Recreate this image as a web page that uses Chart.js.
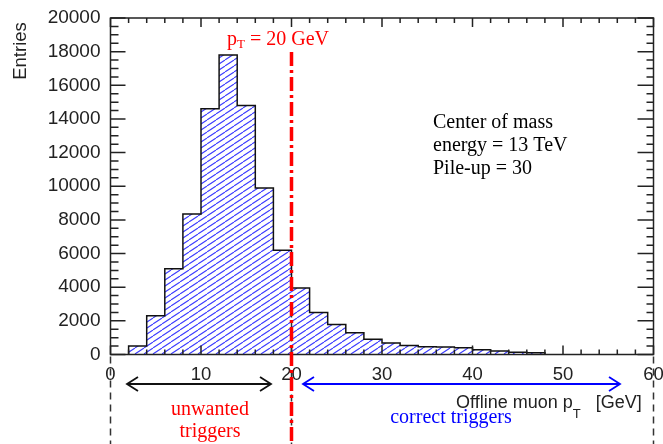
<!DOCTYPE html>
<html>
<head>
<meta charset="utf-8">
<script src="https://cdn.jsdelivr.net/npm/chart.js@4.4.1/dist/chart.umd.min.js"></script>
<style>
  html, body { margin: 0; padding: 0; background: #fff; }
  #wrap { position: relative; width: 663px; height: 444px; }
</style>
</head>
<body>
<div id="wrap"><canvas id="histo"></canvas></div>
<script>
// histogram bins (GeV) and entries
const binEdges = [2, 4, 6, 8, 10, 12, 14, 16, 18, 20, 22, 24, 26, 28, 30, 32, 34, 36, 38, 40, 42, 44, 46, 48];
const entries  = [500, 2300, 5100, 8350, 14600, 17800, 14800, 9900, 6200,
                  3950, 2500, 1780, 1300, 900, 680, 540, 460, 440, 400,
                  280, 210, 130, 100];
const xTicks = [0, 10, 20, 30, 40, 50, 60];
const yTicks = [0, 2000, 4000, 6000, 8000, 10000, 12000, 14000, 16000, 18000, 20000];
const threshold = 20;

const serif = '"Liberation Serif", "Times New Roman", serif';
const sans = '"Liberation Sans", Arial, Helvetica, sans-serif';

// step points: left edge of each bin holds its value
const stepPoints = [{ x: binEdges[0], y: 0 }];
entries.forEach((v, i) => stepPoints.push({ x: binEdges[i], y: v }));
stepPoints.push({ x: binEdges[binEdges.length - 1], y: 0 });

function makeHatch() {
    const c = document.createElement('canvas');
    const w = 9, h = 6;
    c.width = w; c.height = h;
    const g = c.getContext('2d');
    g.strokeStyle = '#3b3bff';
    g.lineWidth = 1.1;
    g.beginPath();
    g.moveTo(-w, h); g.lineTo(0, 0);
    g.moveTo(0, h); g.lineTo(w, 0);
    g.moveTo(w, h); g.lineTo(2 * w, 0);
    g.stroke();
    return g.createPattern(c, 'repeat');
}

// frame with inward ticks on all four sides (ROOT style)
const frameTicks = {
    id: 'frameTicks',
    afterDatasetsDraw(chart) {
        const { ctx, chartArea: a, scales: { x, y } } = chart;
        ctx.save();
        ctx.strokeStyle = '#222';
        ctx.lineWidth = 1.5;
        ctx.strokeRect(a.left, a.top, a.right - a.left, a.bottom - a.top);
        ctx.beginPath();
        for (let v = x.min; v <= x.max; v += 2) {
            const px = x.getPixelForValue(v);
            const len = v % 10 === 0 ? 9 : 5;
            ctx.moveTo(px, a.bottom); ctx.lineTo(px, a.bottom - len);
            ctx.moveTo(px, a.top); ctx.lineTo(px, a.top + len);
        }
        for (let v = y.min; v <= y.max; v += 500) {
            const py = y.getPixelForValue(v);
            const major = v % 2000 === 0;
            ctx.moveTo(a.left, py); ctx.lineTo(a.left + (major ? 15 : 8), py);
            ctx.moveTo(a.right, py); ctx.lineTo(a.right - (major ? 16 : 7), py);
        }
        ctx.stroke();
        ctx.restore();
    }
};

function textWithSub(ctx, x, y, main, sub, rest, subSize, drop) {
    ctx.fillText(main, x, y);
    let cx = x + ctx.measureText(main).width;
    const f = ctx.font;
    ctx.font = ctx.font.replace(/[\d.]+px/, subSize + 'px');
    ctx.fillText(sub, cx, y + drop);
    cx += ctx.measureText(sub).width;
    ctx.font = f;
    ctx.fillText(rest, cx, y);
}

function arrow(ctx, x1, x2, y, color) {
    ctx.strokeStyle = color;
    ctx.lineWidth = 1.8;
    ctx.beginPath();
    ctx.moveTo(x1, y); ctx.lineTo(x2, y);
    ctx.moveTo(x1 + 11, y - 7); ctx.lineTo(x1, y); ctx.lineTo(x1 + 11, y + 7);
    ctx.moveTo(x2 - 11, y - 7); ctx.lineTo(x2, y); ctx.lineTo(x2 - 11, y + 7);
    ctx.stroke();
}

// threshold line, arrows and labels
const annotations = {
    id: 'annotations',
    afterDraw(chart) {
        const { ctx, chartArea: a, scales: { x } } = chart;
        const H = chart.height;
        const x0 = x.getPixelForValue(x.min);
        const x60 = x.getPixelForValue(x.max);
        const xt = x.getPixelForValue(threshold);
        ctx.save();

        // y axis title
        ctx.save();
        ctx.translate(21, 51);
        ctx.rotate(-Math.PI / 2);
        ctx.fillStyle = '#222';
        ctx.font = '18.5px ' + sans;
        ctx.textAlign = 'center';
        ctx.textBaseline = 'middle';
        ctx.fillText('Entries', 0, 0);
        ctx.restore();

        // black dashed guides below the axis
        ctx.strokeStyle = '#333';
        ctx.lineWidth = 1.5;
        ctx.setLineDash([7, 5]);
        ctx.beginPath();
        ctx.moveTo(x0, a.bottom + 2); ctx.lineTo(x0, H);
        ctx.moveTo(x60, a.bottom + 2); ctx.lineTo(x60, H);
        ctx.moveTo(xt, a.bottom - 44); ctx.lineTo(xt, H);
        ctx.stroke();

        // red threshold line
        ctx.strokeStyle = '#ff0000';
        ctx.lineWidth = 3.5;
        ctx.setLineDash([14, 4, 3, 4]);
        ctx.beginPath();
        ctx.moveTo(xt, 52); ctx.lineTo(xt, H);
        ctx.stroke();
        ctx.setLineDash([]);

        // arrows
        arrow(ctx, 127, 271, 384, '#111');
        arrow(ctx, 303, 620, 384, '#0000ff');

        ctx.textBaseline = 'alphabetic';
        ctx.textAlign = 'left';

        // threshold label
        ctx.fillStyle = '#ff0000';
        ctx.font = '20px ' + serif;
        textWithSub(ctx, 227, 45, 'p', 'T', ' = 20 GeV', 13, 3);

        // run conditions
        ctx.fillStyle = '#000';
        ctx.font = '20px ' + serif;
        ctx.fillText('Center of mass', 433, 128);
        ctx.fillText('energy = 13 TeV', 433, 151);
        ctx.fillText('Pile-up = 30', 433, 174);

        // x axis title
        ctx.fillStyle = '#222';
        ctx.font = '18px ' + sans;
        textWithSub(ctx, 456, 408, 'Offline muon p', 'T', '   [GeV]', 13, 10);

        // region labels
        ctx.textAlign = 'center';
        ctx.fillStyle = '#ff0000';
        ctx.font = '20px ' + serif;
        ctx.fillText('unwanted', 210, 415);
        ctx.fillText('triggers', 210, 437);
        ctx.fillStyle = '#0000ff';
        ctx.fillText('correct triggers', 451, 423);

        ctx.restore();
    }
};

const ctx = document.getElementById('histo').getContext('2d');
const chart = new Chart(ctx, {
    type: 'line',
    data: {
        datasets: [{
            data: stepPoints,
            stepped: true,
            fill: 'origin',
            backgroundColor: makeHatch(),
            borderColor: '#111',
            borderWidth: 1.5,
            pointRadius: 0,
            tension: 0
        }]
    },
    options: {
        responsive: true,
        maintainAspectRatio: false,
        animation: false,
        events: [],
        layout: { padding: { top: 18, right: 9.5, left: 0, bottom: 0 } },
        plugins: {
            legend: { display: false },
            tooltip: { enabled: false }
        },
        scales: {
            x: {
                type: 'linear',
                min: 0,
                max: 60,
                afterBuildTicks: s => { s.ticks = xTicks.map(v => ({ value: v })); },
                afterFit: s => { s.height = 89.5; s.paddingLeft = 0; s.paddingRight = 0; },
                grid: { display: false, drawTicks: false },
                border: { display: false },
                ticks: {
                    padding: 9,
                    color: '#222',
                    font: { family: sans, size: 18.5 },
                    maxRotation: 0,
                    callback: v => String(v)
                }
            },
            y: {
                min: 0,
                max: 20000,
                afterBuildTicks: s => { s.ticks = yTicks.map(v => ({ value: v })); },
                afterFit: s => { s.width = 110.5; s.paddingTop = 0; s.paddingBottom = 0; },
                grid: { display: false, drawTicks: false },
                border: { display: false },
                ticks: {
                    padding: 10,
                    color: '#222',
                    font: { family: sans, size: 19 },
                    callback: v => String(v)
                }
            }
        }
    },
    plugins: [frameTicks, annotations]
});
</script>
</body>
</html>
